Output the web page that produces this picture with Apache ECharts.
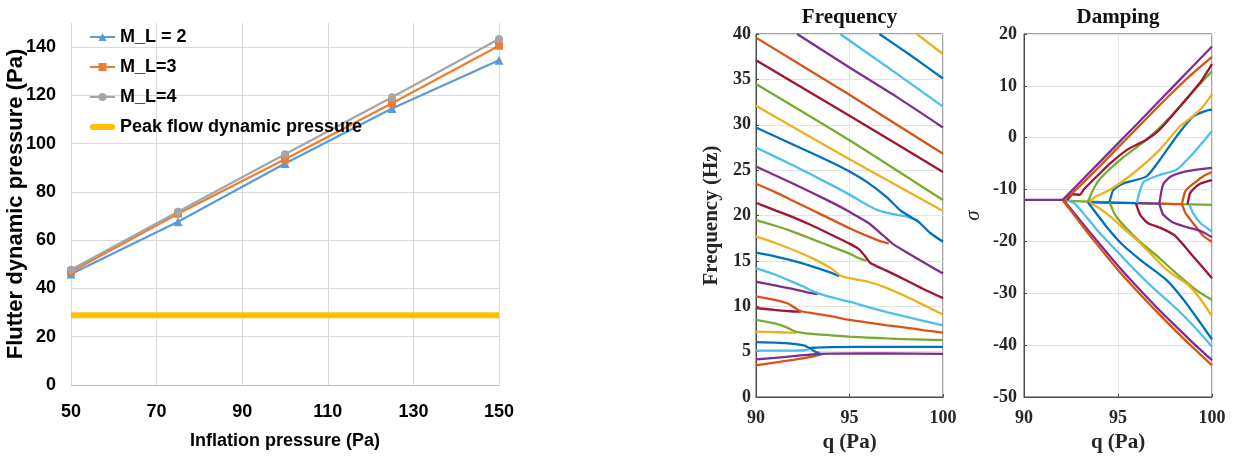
<!DOCTYPE html>
<html>
<head>
<meta charset="utf-8">
<script src="https://cdn.jsdelivr.net/npm/echarts@6/dist/echarts.min.js"></script>
<style>
  html, body { margin: 0; padding: 0; background: #fff; }
  #chart { width: 1233px; height: 460px; }
</style>
</head>
<body>
<div id="chart"></div>
<script>
// ---------- Left panel: flutter dynamic pressure vs inflation pressure ----------
const inflation = [50, 75, 100, 125, 150];
const flutterML2 = [46, 67.6, 91.8, 114.6, 134.6];
const flutterML3 = [46.9, 71.0, 93.5, 116.7, 140.6];
const flutterML4 = [47.8, 71.8, 95.6, 119.2, 143.4];
const peakFlowX = [50, 150];
const peakFlow = [28.9, 28.9];

// ---------- Middle panel: modal frequencies (q in Pa, f in Hz) ----------
const fYellowTop  = [[98.6,40],[100,37.8]];
const fBlueTop    = [[96.6,40],[98.3,37.6],[100,35.1]];
const fCyanTop    = [[94.5,40],[97.2,36.1],[100,32.0]];
const fPurpleTop  = [[92.2,40],[95,36.3],[97.5,33.1],[100,29.7]];
const fOrangeTop  = [[90,39.6],[95,33.3],[100,26.8]];
const fDarkRedTop = [[90,37.1],[95,31.0],[100,24.8]];
const fGreenTop   = [[90,34.5],[95,28.3],[100,21.7]];
const fYellowHi   = [[90,32.1],[95,26.2],[100,20.5]];
const fBlueHi     = [[90,29.7],[92,27.8],[94,25.9],[95,24.85],[96,23.6],[97,22.0],[97.7,20.6],[98.3,19.8],[98.7,19.3],[99.3,18.1],[100,17.1]];
const fCyanHi     = [[90,27.5],[92,25.5],[94,23.4],[95,22.3],[96,21.1],[96.5,20.6],[97.2,20.2],[98,19.9],[98.7,19.4]];
const fPurpleMid  = [[90,25.4],[92,23.5],[94,21.5],[95,20.4],[96,19.2],[96.8,17.8],[97.3,16.9],[98,16.0],[99,14.8],[100,13.6]];
const fOrangeMid  = [[90,23.5],[91,22.6],[92,21.6],[93,20.6],[94,19.6],[95,18.6],[96,17.7],[96.6,17.2],[97.1,16.9]];
const fDarkRedMid = [[90,21.4],[91,20.6],[92,19.8],[93,18.9],[94,17.9],[95,16.9],[95.5,16.3],[95.8,15.6],[96.1,14.8],[97,13.9],[98,12.9],[99,11.85],[100,10.9]];
const fGreenMid   = [[90,19.5],[91,18.9],[92,18.2],[93,17.4],[94,16.6],[95,15.8],[95.5,15.3],[95.9,15.0]];
const fYellowMid  = [[90,17.7],[91,17.0],[92,16.2],[93,15.3],[94,14.2],[94.5,13.4],[95,13.1],[96,12.7],[97,12.0],[98,11.1],[99,10.1],[100,9.1]];
const fBlueMid    = [[90,15.9],[91,15.5],[92,15.0],[93,14.4],[94,13.7],[94.45,13.3]];
const fCyanMid    = [[90,14.2],[91,13.5],[91.7,12.9],[92.5,12.2],[93,11.7],[93.3,11.45],[94,11.0],[95,10.5],[96,9.9],[97,9.35],[98,8.85],[99,8.35],[100,7.9]];
const fPurpleLow2 = [[90,12.7],[91,12.3],[92,11.9],[92.8,11.5],[93.3,11.35]];
const fOrangeLow2 = [[90,11.1],[91,10.7],[91.7,10.3],[92.1,9.8],[92.4,9.45],[93,9.25],[94,8.9],[95,8.5],[96,8.2],[97,7.9],[98,7.65],[99,7.35],[100,7.1]];
const fDarkRedLow = [[90,9.8],[91,9.6],[91.8,9.45],[92.4,9.4]];
const fGreenLow   = [[90,8.5],[91,8.1],[91.6,7.7],[92,7.3],[92.4,7.1],[93,6.95],[94,6.8],[95,6.65],[96,6.55],[97,6.45],[98,6.38],[99,6.32],[100,6.26]];
const fYellowLow  = [[90,7.2],[91,7.15],[91.8,7.1],[92.2,7.1]];
const fBlueLow    = [[90,6.05],[91,6.0],[92,5.85],[92.6,5.65],[92.9,5.4],[93.2,5.45],[94,5.5],[97,5.53],[100,5.53]];
const fBlueHook   = [[92.9,5.4],[93.1,5.05],[93.4,4.85]];
const fCyanLow    = [[90,5.1],[91,5.1],[92,5.1],[92.6,5.15],[92.9,5.3]];
const fPurpleLow  = [[90,4.15],[91,4.3],[92,4.5],[92.8,4.65],[93.4,4.75],[94,4.78],[97,4.8],[100,4.75]];
const fOrangeLow  = [[90,3.5],[91,3.8],[92,4.1],[93,4.45],[93.5,4.7]];

// ---------- Right panel: modal damping sigma ----------
const dBase       = [[90,-12],[92.05,-12]];
const dFlatGreen  = [[92.05,-12.1],[94,-12.4],[96,-12.6],[98,-12.8],[100,-12.95]];
const dFlatBlue   = [[93.4,-12.45],[96,-12.6]];
const dFlatPurple = [[96,-12.6],[97.2,-12.7]];
const dFlatOrange = [[97.2,-12.7],[98.4,-12.8]];
const dPurpleU1   = [[92.05,-12],[94,-4.8],[96,2.6],[98,10.1],[100,17.6]];
const dOrangeU1   = [[92.1,-12],[92.5,-10.9],[93,-9.2],[94,-5.6],[95,-1.9],[96,1.8],[97,5.5],[98,9.1],[99,12.5],[100,15.6]];
const dDarkRedU1  = [[92.3,-12],[92.6,-10.9],[92.95,-11.0],[93.2,-9.9],[94,-7.0],[94.6,-4.9],[95.5,-2.3],[96.5,-0.4],[97.2,1.5],[98.3,6.0],[99.4,10.8],[100,14.2]];
const dGreenU     = [[93.4,-12.4],[93.6,-10.6],[94,-8.1],[95.1,-4.3],[96.5,-0.4],[97.8,4.1],[99,9.0],[100,12.8]];
const dYellowU    = [[93.45,-12.4],[93.8,-11.4],[94.6,-10.0],[95.8,-6.9],[97.2,-2.4],[98.3,2.2],[99,4.2],[99.5,5.9],[100,8.4]];
const dBlueU      = [[94.55,-12.4],[94.75,-10.1],[95.3,-8.8],[96.5,-7.5],[97.2,-4.4],[98.1,0.2],[99,4.1],[99.7,5.2],[100,5.4]];
const dCyanU      = [[96.0,-12.6],[96.35,-8.6],[97.2,-7.2],[98.1,-6.2],[99,-3.0],[100,1.3]];
const dPurpleU2   = [[97.2,-12.7],[97.4,-9.0],[97.8,-7.5],[98.5,-6.6],[99.3,-6.1],[100,-5.8]];
const dOrangeU2   = [[98.4,-12.8],[98.6,-10.2],[99.1,-8.6],[99.6,-7.3],[100,-6.6]];
const dDarkRedU2  = [[98.7,-12.8],[98.85,-10.6],[99.3,-9.0],[100,-8.2]];
const dOrangeL1   = [[92.05,-12],[93,-16.5],[94,-21.1],[95,-25.5],[96,-29.5],[97,-33.3],[98,-37.0],[99,-40.5],[100,-43.9]];
const dPurpleL1   = [[92.1,-12],[93,-16.0],[94,-20.4],[95,-24.7],[96,-28.7],[97,-32.5],[98,-36.1],[99,-39.6],[100,-42.9]];
const dCyanL1     = [[92.3,-12.1],[92.7,-12.7],[93.1,-14.3],[94,-18.3],[95,-22.1],[96,-25.9],[97,-29.4],[98,-32.6],[99,-36.2],[100,-40.3]];
const dBlueL      = [[93.4,-12.45],[93.7,-13.9],[94.4,-17.2],[95.2,-20.5],[96.2,-23.6],[97.6,-27.5],[98.5,-31.3],[99.4,-35.8],[100,-38.9]];
const dYellowL    = [[93.45,-12.45],[94,-13.6],[94.6,-15.2],[95.3,-17.5],[96.2,-20.4],[97.6,-25.5],[98.7,-28.3],[99.4,-31.2],[100,-34.4]];
const dGreenL     = [[94.55,-12.5],[94.9,-15.2],[96,-19.5],[97.1,-22.9],[98.3,-26.8],[99.2,-29.5],[100,-31.3]];
const dDarkRedL   = [[95.95,-12.6],[96.2,-15.0],[96.6,-16.5],[97.2,-17.3],[98,-18.8],[99,-22.9],[100,-27.1]];
const dPurpleL2   = [[97.2,-12.7],[97.4,-14.8],[97.9,-16.3],[98.7,-17.3],[99.4,-18.0],[100,-19.2]];
const dOrangeL2   = [[98.4,-12.8],[98.6,-14.6],[99.0,-16.5],[99.5,-18.8],[100,-20.1]];
const dCyanL2     = [[98.8,-12.85],[99.0,-14.6],[99.4,-16.5],[100,-18.1]];

// Axis ranges and tick steps
const leftXTicks = { min: 50, max: 150, interval: 20 };
const leftYTicks = { min: 0, max: 150, interval: 20 };

// ---------- styling ----------
const SANS = "'Liberation Sans', Arial, sans-serif";
const SERIF = "'Liberation Serif', 'Times New Roman', serif";
const M = {
  blue: '#0072BD', orange: '#D95319', yellow: '#EDB120', purple: '#7E2F8E',
  green: '#77AC30', cyan: '#4DBEEE', darkred: '#A2142F'
};

const freqCurves = [
  [fYellowTop, M.yellow], [fBlueTop, M.blue], [fCyanTop, M.cyan], [fPurpleTop, M.purple],
  [fOrangeTop, M.orange], [fDarkRedTop, M.darkred], [fGreenTop, M.green], [fYellowHi, M.yellow],
  [fCyanHi, M.cyan], [fBlueHi, M.blue], [fOrangeMid, M.orange], [fPurpleMid, M.purple],
  [fGreenMid, M.green], [fDarkRedMid, M.darkred], [fBlueMid, M.blue], [fYellowMid, M.yellow],
  [fPurpleLow2, M.purple], [fCyanMid, M.cyan], [fDarkRedLow, M.darkred], [fOrangeLow2, M.orange],
  [fYellowLow, M.yellow], [fGreenLow, M.green], [fCyanLow, M.cyan], [fBlueHook, M.blue],
  [fOrangeLow, M.orange], [fPurpleLow, M.purple], [fBlueLow, M.blue]
];

const dampCurves = [
  [dFlatGreen, M.green], [dFlatBlue, M.blue], [dFlatPurple, M.purple], [dFlatOrange, M.orange],
  [dCyanL2, M.cyan], [dOrangeL2, M.orange], [dPurpleL2, M.purple], [dDarkRedL, M.darkred],
  [dGreenL, M.green], [dYellowL, M.yellow], [dBlueL, M.blue], [dCyanL1, M.cyan],
  [dPurpleL1, M.purple], [dOrangeL1, M.orange],
  [dDarkRedU2, M.darkred], [dOrangeU2, M.orange], [dPurpleU2, M.purple], [dCyanU, M.cyan],
  [dBlueU, M.blue], [dYellowU, M.yellow], [dGreenU, M.green], [dDarkRedU1, M.darkred],
  [dOrangeU1, M.orange], [dPurpleU1, M.purple], [dBase, M.purple]
];

function curveSeries(list, axisIndex) {
  return list.map(([pts, color]) => ({
    type: 'line', xAxisIndex: axisIndex, yAxisIndex: axisIndex,
    data: pts, symbol: 'none', smooth: 0.2, silent: true,
    lineStyle: { color: color, width: 2.3 }, itemStyle: { color: color }
  }));
}

const zip = (xs, ys) => xs.map((x, i) => [x, ys[i]]);

const serifLabel = { fontFamily: SERIF, fontWeight: 'bold', fontSize: 18, color: '#262626' };
const serifName = { fontFamily: SERIF, fontWeight: 'bold', fontSize: 21, color: '#262626' };
const matGrid = { show: true, lineStyle: { color: '#e3e3e3', width: 1 } };
const matLine = { show: true, onZero: false, lineStyle: { color: '#4a4a4a', width: 1 } };
const matTick = { show: true, inside: true, length: 3, lineStyle: { color: '#4a4a4a' } };

const option = {
  animation: false,
  backgroundColor: '#fff',
  grid: [
    { left: 71, right: 734, top: 23, bottom: 75 },
    { left: 756, right: 290, top: 34, bottom: 63, show: true, borderColor: '#4a4a4a', borderWidth: 1 },
    { left: 1024, right: 21, top: 34, bottom: 63, show: true, borderColor: '#4a4a4a', borderWidth: 1 }
  ],
  legend: {
    data: [
      'M_L = 2', 'M_L=3', 'M_L=4',
      { name: 'Peak flow dynamic pressure', icon: 'path://M3,0 L23,0 A3,3 0 0 1 23,6 L3,6 A3,3 0 0 1 3,0 Z' }
    ],
    orient: 'vertical', left: 84, top: 23, itemGap: 12, itemWidth: 25, itemHeight: 10,
    textStyle: { fontFamily: SANS, fontWeight: 'bold', fontSize: 18, color: '#000' }
  },
  xAxis: [
    {
      gridIndex: 0, type: 'value', min: leftXTicks.min, max: leftXTicks.max, interval: leftXTicks.interval,
      axisLine: { show: true, lineStyle: { color: '#bfbfbf' } }, axisTick: { show: false },
      splitLine: { show: true, lineStyle: { color: '#d9d9d9' } },
      axisLabel: { fontFamily: SANS, fontWeight: 'bold', fontSize: 18, color: '#000', margin: 18 },
      name: 'Inflation pressure (Pa)', nameLocation: 'middle', nameGap: 47, nameMoveOverlap: false,
      nameTextStyle: { fontFamily: SANS, fontWeight: 'bold', fontSize: 18, color: '#000' }
    },
    {
      gridIndex: 1, type: 'value', min: 90, max: 100, interval: 5,
      axisLine: matLine, axisTick: matTick, splitLine: matGrid,
      axisLabel: Object.assign({ margin: 12 }, serifLabel),
      name: 'q (Pa)', nameLocation: 'middle', nameGap: 30, nameTextStyle: serifName
    },
    {
      gridIndex: 2, type: 'value', min: 90, max: 100, interval: 5,
      axisLine: matLine, axisTick: matTick, splitLine: matGrid,
      axisLabel: Object.assign({ margin: 12 }, serifLabel),
      name: 'q (Pa)', nameLocation: 'middle', nameGap: 30, nameTextStyle: serifName
    }
  ],
  yAxis: [
    {
      gridIndex: 0, type: 'value', min: leftYTicks.min, max: leftYTicks.max, interval: leftYTicks.interval,
      axisLine: { show: false }, axisTick: { show: false },
      splitLine: { show: true, showMaxLine: false, lineStyle: { color: '#d9d9d9' } },
      axisLabel: { fontFamily: SANS, fontWeight: 'bold', fontSize: 18, color: '#000', margin: 15, showMaxLabel: false },
      name: 'Flutter dynamic pressure (Pa)', nameLocation: 'middle', nameGap: 44, nameMoveOverlap: false,
      nameTextStyle: { fontFamily: SANS, fontWeight: 'bold', fontSize: 22, color: '#000' }
    },
    {
      gridIndex: 1, type: 'value', min: 0, max: 40, interval: 5,
      axisLine: matLine, axisTick: matTick, splitLine: matGrid,
      axisLabel: Object.assign({ margin: 5 }, serifLabel),
      name: 'Frequency (Hz)', nameLocation: 'middle', nameGap: 34, nameTextStyle: serifName
    },
    {
      gridIndex: 2, type: 'value', min: -50, max: 20, interval: 10,
      axisLine: matLine, axisTick: matTick, splitLine: matGrid,
      axisLabel: Object.assign({ margin: 7 }, serifLabel),
      name: 'σ', nameLocation: 'middle', nameGap: 40,
      nameTextStyle: Object.assign({}, serifName, { fontStyle: 'italic', fontWeight: 'normal' })
    }
  ],
  graphic: [
    { type: 'text', x: 849.5, y: 18, style: { text: 'Frequency', align: 'center', verticalAlign: 'middle',
      font: "bold 21px 'Liberation Serif', 'Times New Roman', serif", fill: '#111' } },
    { type: 'text', x: 1118, y: 18, style: { text: 'Damping', align: 'center', verticalAlign: 'middle',
      font: "bold 21px 'Liberation Serif', 'Times New Roman', serif", fill: '#111' } }
  ],
  series: [
    {
      name: 'Peak flow dynamic pressure', type: 'line', xAxisIndex: 0, yAxisIndex: 0,
      data: zip(peakFlowX, peakFlow), symbol: 'none',
      lineStyle: { color: '#FFC000', width: 6 }, itemStyle: { color: '#FFC000' }
    },
    {
      name: 'M_L = 2', type: 'line', xAxisIndex: 0, yAxisIndex: 0,
      data: zip(inflation, flutterML2), symbol: 'triangle', symbolSize: 9,
      lineStyle: { color: '#5B9BD5', width: 2.25 }, itemStyle: { color: '#5B9BD5' }
    },
    {
      name: 'M_L=3', type: 'line', xAxisIndex: 0, yAxisIndex: 0,
      data: zip(inflation, flutterML3), symbol: 'rect', symbolSize: 8,
      lineStyle: { color: '#ED7D31', width: 2.25 }, itemStyle: { color: '#ED7D31' }
    },
    {
      name: 'M_L=4', type: 'line', xAxisIndex: 0, yAxisIndex: 0,
      data: zip(inflation, flutterML4), symbol: 'circle', symbolSize: 8,
      lineStyle: { color: '#A5A5A5', width: 2.25 }, itemStyle: { color: '#A5A5A5' }
    }
  ].concat(curveSeries(freqCurves, 1), curveSeries(dampCurves, 2))
};

const chart = echarts.init(document.getElementById('chart'), null, { renderer: 'canvas' });
chart.setOption(option);
</script>
</body>
</html>
